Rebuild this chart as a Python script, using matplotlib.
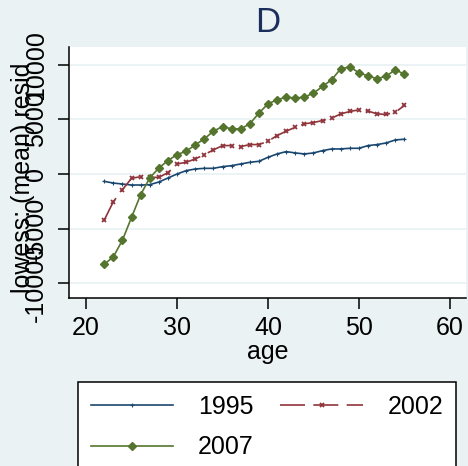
import matplotlib
matplotlib.use('Agg')
import matplotlib.pyplot as plt

plt.rcParams['font.family'] = ['Liberation Sans', 'DejaVu Sans']
plt.rcParams['lines.scale_dashes'] = False

# lowess smoothed mean residuals by age, three survey years
age = list(range(22, 56))
y1995 = [-675, -830, -920, -1010, -1010, -980, -735, -370, 0, 307,
         460, 520, 520, 675, 767, 920, 1073, 1165, 1533, 1840,
         2055, 1932, 1840, 1932, 2147, 2300, 2300, 2360, 2360, 2607,
         2700, 2852, 3128, 3190]
y2002 = [-4232, -2546, -1441, -399, -245, -307, -307, 123, 920, 1073,
         1380, 1779, 2208, 2607, 2607, 2515, 2700, 2700, 3005, 3527,
         3925, 4294, 4600, 4723, 4907, 5122, 5520, 5735, 5889, 5766,
         5520, 5460, 5674, 6287]
y2007 = [-8281, -7606, -6073, -3987, -1902, -368, 552, 1227, 1779, 2086,
         2668, 3220, 3926, 4355, 4140, 4140, 4600, 5582, 6441, 6809,
         7054, 6962, 7054, 7422, 8036, 8649, 9661, 9814, 9293, 8986,
         8741, 8986, 9569, 9140]

xticks = [20, 30, 40, 50, 60]
yticks = [-10000, -5000, 0, 5000, 10000]
ytick_labels = ['-10000', '-5000', '0', '5000', '10000']

bg = '#eaf2f3'
c_blue = '#1a476f'
c_red = '#90353b'
c_green = '#55752f'

fig = plt.figure(figsize=(4.68, 4.66), dpi=100, facecolor=bg)
ax = fig.add_axes([69/468, 1 - 298/466, (466-69)/468, (298-47)/466])
ax.set_facecolor('white')

ax.set_xlim(18.13, 61.76)
ax.set_ylim(-11376, 11651)

for v in yticks:
    ax.axhline(v, color=bg, lw=1.3, zorder=0)

l1, = ax.plot(age, y1995, color=c_blue, lw=1.2, marker='+', ms=3, mew=0.8)
l2, = ax.plot(age, y2002, color=c_red, lw=1.2, ls=(0, (18, 6)),
              marker='x', ms=3.5, mew=1.3)
l3, = ax.plot(age, y2007, color=c_green, lw=1.2, marker='D', ms=4.5)

ax.set_xticks(xticks)
ax.set_yticks(yticks)
ax.set_yticklabels(ytick_labels, rotation=90, va='center')
ax.tick_params(axis='both', labelsize=18, length=8, width=1.1, color='black')
ax.tick_params(axis='y', pad=7)
ax.tick_params(axis='x', pad=5)

for s in ['top', 'right']:
    ax.spines[s].set_visible(False)
for s in ['left', 'bottom']:
    ax.spines[s].set_linewidth(1.1)

ax.set_xlabel('age', fontsize=18, labelpad=0)
ax.set_ylabel('lowess: (mean) resid', fontsize=18)
ax.yaxis.set_label_coords(-0.085, 0.478)

fig.text(268/468, 1 - 23/466, 'D', ha='center', va='center',
         fontsize=25, color='#1c2e5c')

leg = fig.legend([l1, l3, l2], ['1995', '2007', '2002'], ncol=2,
                 loc='upper left',
                 bbox_to_anchor=(78/468, 0, (456-78)/468, 1 - 382/466),
                 borderaxespad=0, mode='expand', fontsize=18,
                 handlelength=3.3, handletextpad=1.0, columnspacing=1.6,
                 labelspacing=0.68, borderpad=0.5, fancybox=False,
                 framealpha=1, edgecolor='black')
leg.get_frame().set_linewidth(1.1)

fig.savefig('out.png', dpi=100, facecolor=bg)
